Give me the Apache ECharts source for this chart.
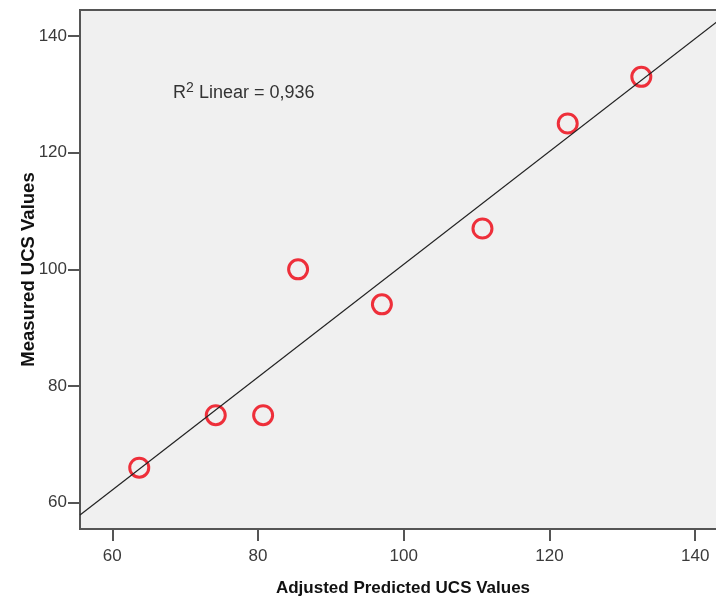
<!DOCTYPE html>
<html>
<head>
<meta charset="utf-8">
<script src="https://cdn.jsdelivr.net/npm/echarts@6/dist/echarts.min.js"></script>
<style>
  html, body { margin: 0; padding: 0; background: #fff; }
  #main { width: 716px; height: 601px; }
</style>
</head>
<body>
<div id="main"></div>
<script>
// values
var predicted = [63.7, 74.2, 80.7, 85.5, 97.0, 110.8, 122.5, 132.6];
var measured = [66, 75, 75, 100, 94, 107, 125, 133];
var xTicks = [60, 80, 100, 120, 140];
var yTicks = [60, 80, 100, 120, 140];
var xRange = [55.57, 144.22];
var yRange = [55.49, 144.46];

var points = predicted.map(function (x, i) { return [x, measured[i]]; });

// least squares fit line (R2 Linear)
var n = predicted.length, mx = 0, my = 0;
for (var i = 0; i < n; i++) { mx += predicted[i] / n; my += measured[i] / n; }
var sxy = 0, sxx = 0;
for (var i = 0; i < n; i++) {
    sxy += (predicted[i] - mx) * (measured[i] - my);
    sxx += (predicted[i] - mx) * (predicted[i] - mx);
}
var slope = sxy / sxx, icpt = my - slope * mx;
var fit = [[xRange[0], icpt + slope * xRange[0]], [xRange[1], icpt + slope * xRange[1]]];

var labelFont = { fontFamily: 'Liberation Sans', fontSize: 17, color: '#3a3a3a' };

var myChart = echarts.init(document.getElementById('main'));
var option = {
    animation: false,
    grid: {
        left: 80, top: 10, width: 646, height: 519,
        outerBoundsMode: 'none',
        show: true,
        backgroundColor: '#f0f0f0',
        borderColor: '#555',
        borderWidth: 2
    },
    xAxis: {
        type: 'value',
        min: xRange[0],
        max: xRange[1],
        name: 'Adjusted Predicted UCS Values',
        nameLocation: 'middle',
        nameGap: 51,
        nameMoveOverlap: false,
        nameTextStyle: { fontFamily: 'Liberation Sans', fontSize: 17, fontWeight: 'bold', color: '#111' },
        axisLine: { show: false },
        splitLine: { show: false },
        axisTick: { show: true, length: 12, customValues: xTicks, lineStyle: { color: '#555', width: 2 } },
        axisLabel: Object.assign({ margin: 19, customValues: xTicks }, labelFont)
    },
    yAxis: {
        type: 'value',
        min: yRange[0],
        max: yRange[1],
        name: 'Measured UCS Values',
        nameLocation: 'middle',
        nameGap: 42,
        nameMoveOverlap: false,
        nameTextStyle: { fontFamily: 'Liberation Sans', fontSize: 18.5, fontWeight: 'bold', color: '#111' },
        axisLine: { show: false },
        splitLine: { show: false },
        axisTick: { show: true, length: 12, customValues: yTicks, lineStyle: { color: '#555', width: 2 } },
        axisLabel: Object.assign({ margin: 13, customValues: yTicks }, labelFont)
    },
    graphic: [
        { type: 'text', left: 173, top: 84, style: { text: 'R', font: '18px "Liberation Sans"', fill: '#333' } },
        { type: 'text', left: 186, top: 81, style: { text: '2', font: '14px "Liberation Sans"', fill: '#333' } },
        { type: 'text', left: 199, top: 84, style: { text: 'Linear = 0,936', font: '18px "Liberation Sans"', fill: '#333' } }
    ],
    series: [
        {
            type: 'scatter',
            data: points,
            symbol: 'circle',
            symbolSize: 19,
            itemStyle: { color: 'rgba(0,0,0,0)', borderColor: '#ee2f3a', borderWidth: 3, opacity: 1 },
            z: 2
        },
        {
            type: 'line',
            data: fit,
            symbol: 'none',
            lineStyle: { color: '#222', width: 1.2 },
            z: 3
        }
    ]
};
myChart.setOption(option);
</script>
</body>
</html>
